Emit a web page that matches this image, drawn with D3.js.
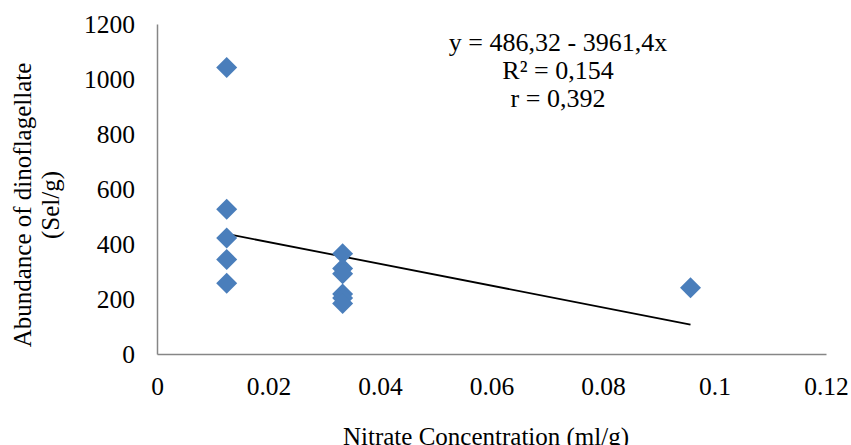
<!DOCTYPE html>
<html><head><meta charset="utf-8">
<script src="https://cdn.jsdelivr.net/npm/d3@7"></script>
<style>body{margin:0;background:#fff}svg{display:block}svg text{font-family:"Liberation Serif","Times New Roman",serif !important;fill:#000}</style>
</head><body>
<svg id="c" width="851" height="445"></svg>
<script>
const nitrate = [0.0125,0.0125,0.0125,0.0125,0.0125,0.0333,0.0333,0.0333,0.0333,0.0333,0.0333,0.0957];
const abundance = [1042,526,422,344,257,365,311,292,218,204,184,241];
const xTicks = [0,0.02,0.04,0.06,0.08,0.1,0.12];
const yTicks = [0,200,400,600,800,1000,1200];
const intercept = 486.32, slope = -3961.4;
const eqLines = ["y = 486,32 - 3961,4x","R² = 0,154","r = 0,392"];

const svg = d3.select("#c");
const x = d3.scaleLinear().domain([0,0.12]).range([157,826]);
const y = d3.scaleLinear().domain([0,1200]).range([354,24]);

const fs = "25.5px";
// axes
svg.append("g").attr("transform","translate(0,354)")
  .call(d3.axisBottom(x).tickValues(xTicks).tickSize(0).tickPadding(23).tickFormat(d=>d===0?"0":String(+d.toFixed(2))))
  .call(g=>g.select(".domain").attr("stroke","#868686").attr("stroke-width",1.5))
  .call(g=>g.selectAll("text").style("font-size",fs));
svg.append("g").attr("transform","translate(157,0)")
  .call(d3.axisLeft(y).tickValues(yTicks).tickSize(0).tickPadding(22).tickFormat(d3.format("d")))
  .call(g=>g.select(".domain").attr("stroke","#868686").attr("stroke-width",1.5))
  .call(g=>g.selectAll("text").style("font-size",fs));

// trendline
const xe = d3.extent(nitrate);
svg.append("line").attr("x1",x(xe[0])).attr("y1",y(intercept+slope*xe[0]))
  .attr("x2",x(xe[1])).attr("y2",y(intercept+slope*xe[1]))
  .attr("stroke","#000").attr("stroke-width",1.8);

// points
const sym = d3.symbol().type(d3.symbolSquare).size(220);
svg.selectAll("path.pt").data(nitrate).join("path").attr("class","pt")
  .attr("d",sym)
  .attr("transform",(d,i)=>`translate(${x(d)},${y(abundance[i])}) rotate(45)`)
  .attr("fill","#4A7EBB");

// equation
svg.append("text").attr("x",558).attr("y",51).attr("text-anchor","middle").style("font-size","26px")
  .selectAll("tspan").data(eqLines).join("tspan").attr("x",558).attr("dy",(d,i)=>i?28:0).text(d=>d);

// axis titles
svg.append("text").attr("x",486).attr("y",445).attr("text-anchor","middle").style("font-size","25px").text("Nitrate Concentration (ml/g)");
const yl = svg.append("text").attr("transform","translate(0,205) rotate(-90)").attr("text-anchor","middle").style("font-size","25px");
yl.append("tspan").attr("x",0).attr("y",31).text("Abundance of dinoflagellate");
yl.append("tspan").attr("x",0).attr("y",59).text("(Sel/g)");
</script>
</body></html>
